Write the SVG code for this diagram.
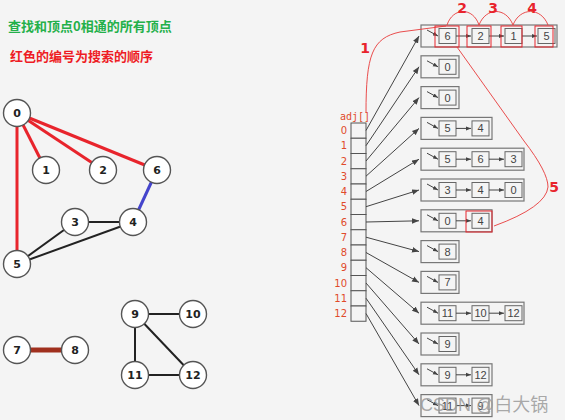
<svg xmlns="http://www.w3.org/2000/svg" width="565" height="420" viewBox="0 0 565 420">
<style>
.t{font-family:"Noto Sans CJK SC","Noto Sans",sans-serif;font-weight:bold;font-size:13px}
.gv circle{fill:#fff;stroke:#555;stroke-width:1.4}
.gv text{font-family:"DejaVu Sans",sans-serif;font-weight:bold;font-size:11px;fill:#222;text-anchor:middle}
.e{stroke:#222;stroke-width:2}
.er{stroke:#e8242c;stroke-width:3}
.idx{font-family:"DejaVu Sans",sans-serif;font-size:10px;fill:#e04a2a;text-anchor:end}
.cell{fill:#f4f4f4;stroke:#555;stroke-width:1}
.box{fill:none;stroke:#777;stroke-width:1.2}
.nd{fill:#f4f4f4;stroke:#666;stroke-width:1}
.nt{font-family:"Liberation Sans",sans-serif;font-size:11px;fill:#444;text-anchor:middle}
.al{stroke:#444;stroke-width:1;fill:none;marker-end:url(#ah)}
.ptr{stroke:#444;stroke-width:1;fill:none;marker-end:url(#ah2)}
.rb{fill:none;stroke:#e8242c;stroke-width:1}
.rc{fill:none;stroke:#e83a3a;stroke-width:0.9}
.rl{font-family:"DejaVu Sans",sans-serif;font-weight:bold;font-size:14px;fill:#e8242c;text-anchor:middle}
</style>
<defs>
<marker id="ah" viewBox="0 0 10 10" refX="10" refY="5" markerWidth="7" markerHeight="7" markerUnits="userSpaceOnUse" orient="auto"><path d="M0,1 L10,5 L0,9 z" fill="#444"/></marker>
<marker id="ah2" viewBox="0 0 10 10" refX="10" refY="5" markerWidth="5" markerHeight="5" markerUnits="userSpaceOnUse" orient="auto"><path d="M0,1 L10,5 L0,9 z" fill="#444"/></marker>
</defs>
<rect width="565" height="420" fill="#f4f4f4"/>
<text class="t" x="8" y="31" fill="#24b04a">查找和顶点0相通的所有顶点</text>
<text class="t" x="10" y="61" fill="#ee1c24">红色的编号为搜索的顺序</text>

<g id="edges">
<line class="er" x1="17" y1="113" x2="46" y2="170"/>
<line class="er" x1="17" y1="113" x2="103" y2="170"/>
<line class="er" x1="17" y1="113" x2="157" y2="170"/>
<line class="er" x1="17" y1="113" x2="17" y2="264"/>
<line x1="157" y1="170" x2="133" y2="222" stroke="#4444cc" stroke-width="3"/>
<line class="e" x1="75" y1="222" x2="133" y2="222"/>
<line class="e" x1="75" y1="222" x2="17" y2="264"/>
<line class="e" x1="133" y1="222" x2="17" y2="264"/>
<line x1="17" y1="350" x2="75" y2="350" stroke="#a0301e" stroke-width="5"/>
<line class="e" x1="135" y1="314" x2="193" y2="314"/>
<line class="e" x1="135" y1="314" x2="135" y2="375"/>
<line class="e" x1="135" y1="314" x2="193" y2="375"/>
<line class="e" x1="135" y1="375" x2="193" y2="375"/>
</g>
<g class="gv">
<g id="v0"><circle cx="17" cy="113" r="13.5"/><text x="17" y="117">0</text></g>
<g id="v1"><circle cx="46" cy="170" r="13.5"/><text x="46" y="174">1</text></g>
<g id="v2"><circle cx="103" cy="170" r="13.5"/><text x="103" y="174">2</text></g>
<g id="v6"><circle cx="157" cy="170" r="13.5"/><text x="157" y="174">6</text></g>
<g id="v3"><circle cx="75" cy="222" r="13.5"/><text x="75" y="226">3</text></g>
<g id="v4"><circle cx="133" cy="222" r="13.5"/><text x="133" y="226">4</text></g>
<g id="v5"><circle cx="17" cy="264" r="13.5"/><text x="17" y="268">5</text></g>
<g id="v7"><circle cx="17" cy="350" r="13.5"/><text x="17" y="354">7</text></g>
<g id="v8"><circle cx="75" cy="350" r="13.5"/><text x="75" y="354">8</text></g>
<g id="v9"><circle cx="135" cy="314" r="13.5"/><text x="135" y="318">9</text></g>
<g id="v10"><circle cx="193" cy="314" r="13.5"/><text x="193" y="318">10</text></g>
<g id="v11"><circle cx="135" cy="375" r="13.5"/><text x="135" y="379">11</text></g>
<g id="v12"><circle cx="193" cy="375" r="13.5"/><text x="193" y="379">12</text></g>
</g>

<g id="adj">
<text x="340" y="120" font-family="DejaVu Sans Mono,monospace" font-size="10" fill="#e04a2a">adj[]</text>
<text class="idx" x="347" y="134">0</text>
<text class="idx" x="347" y="149">1</text>
<text class="idx" x="347" y="165">2</text>
<text class="idx" x="347" y="180">3</text>
<text class="idx" x="347" y="195">4</text>
<text class="idx" x="347" y="210">5</text>
<text class="idx" x="347" y="226">6</text>
<text class="idx" x="347" y="241">7</text>
<text class="idx" x="347" y="256">8</text>
<text class="idx" x="347" y="271">9</text>
<text class="idx" x="347" y="287">10</text>
<text class="idx" x="347" y="302">11</text>
<text class="idx" x="347" y="317">12</text>
<rect class="cell" x="351" y="123" width="15" height="15.25"/>
<rect class="cell" x="351" y="138.25" width="15" height="15.25"/>
<rect class="cell" x="351" y="153.5" width="15" height="15.25"/>
<rect class="cell" x="351" y="168.75" width="15" height="15.25"/>
<rect class="cell" x="351" y="184" width="15" height="15.25"/>
<rect class="cell" x="351" y="199.25" width="15" height="15.25"/>
<rect class="cell" x="351" y="214.5" width="15" height="15.25"/>
<rect class="cell" x="351" y="229.75" width="15" height="15.25"/>
<rect class="cell" x="351" y="245" width="15" height="15.25"/>
<rect class="cell" x="351" y="260.25" width="15" height="15.25"/>
<rect class="cell" x="351" y="275.5" width="15" height="15.25"/>
<rect class="cell" x="351" y="290.75" width="15" height="15.25"/>
<rect class="cell" x="351" y="306" width="15" height="15.25"/>
</g>

<g id="connectors">
<line class="al" x1="366" y1="130.5" x2="419" y2="36"/>
<line class="al" x1="366" y1="145.7" x2="419" y2="66.8"/>
<line class="al" x1="366" y1="161" x2="419" y2="97.6"/>
<line class="al" x1="366" y1="176.2" x2="419" y2="128.4"/>
<line class="al" x1="366" y1="191.5" x2="419" y2="159.2"/>
<line class="al" x1="366" y1="206.7" x2="419" y2="190"/>
<line class="al" x1="366" y1="222" x2="419" y2="220.8"/>
<line class="al" x1="366" y1="237.2" x2="419" y2="251.6"/>
<line class="al" x1="366" y1="252.5" x2="419" y2="282.4"/>
<line class="al" x1="366" y1="267.7" x2="419" y2="313.2"/>
<line class="al" x1="366" y1="283" x2="419" y2="344"/>
<line class="al" x1="366" y1="298.2" x2="419" y2="374.8"/>
<line class="al" x1="366" y1="313.5" x2="419" y2="405.6"/>
</g>

<g id="list0">
<rect class="box" x="421" y="25" width="136" height="22"/>
<line class="ptr" x1="427" y1="30" x2="438" y2="36"/>
<rect class="nd" x="439" y="28.5" width="17" height="15"/><text class="nt" x="447.5" y="40">6</text>
<line class="ptr" x1="456" y1="36" x2="471" y2="36"/>
<rect class="nd" x="472" y="28.5" width="17" height="15"/><text class="nt" x="480.5" y="40">2</text>
<line class="ptr" x1="489" y1="36" x2="504" y2="36"/>
<rect class="nd" x="505" y="28.5" width="17" height="15"/><text class="nt" x="513.5" y="40">1</text>
<line class="ptr" x1="522" y1="36" x2="537" y2="36"/>
<rect class="nd" x="538" y="28.5" width="17" height="15"/><text class="nt" x="546.5" y="40">5</text>
</g>
<g id="list1">
<rect class="box" x="421" y="55.8" width="38" height="22"/>
<line class="ptr" x1="427" y1="60.8" x2="438" y2="66.8"/>
<rect class="nd" x="439" y="59.3" width="17" height="15"/><text class="nt" x="447.5" y="70.8">0</text>
</g>
<g id="list2">
<rect class="box" x="421" y="86.6" width="38" height="22"/>
<line class="ptr" x1="427" y1="91.6" x2="438" y2="97.6"/>
<rect class="nd" x="439" y="90.1" width="17" height="15"/><text class="nt" x="447.5" y="101.6">0</text>
</g>
<g id="list3">
<rect class="box" x="421" y="117.4" width="71" height="22"/>
<line class="ptr" x1="427" y1="122.4" x2="438" y2="128.4"/>
<rect class="nd" x="439" y="120.9" width="17" height="15"/><text class="nt" x="447.5" y="132.4">5</text>
<line class="ptr" x1="456" y1="128.4" x2="471" y2="128.4"/>
<rect class="nd" x="472" y="120.9" width="17" height="15"/><text class="nt" x="480.5" y="132.4">4</text>
</g>
<g id="list4">
<rect class="box" x="421" y="148.2" width="103" height="22"/>
<line class="ptr" x1="427" y1="153.2" x2="438" y2="159.2"/>
<rect class="nd" x="439" y="151.7" width="17" height="15"/><text class="nt" x="447.5" y="163.2">5</text>
<line class="ptr" x1="456" y1="159.2" x2="471" y2="159.2"/>
<rect class="nd" x="472" y="151.7" width="17" height="15"/><text class="nt" x="480.5" y="163.2">6</text>
<line class="ptr" x1="489" y1="159.2" x2="504" y2="159.2"/>
<rect class="nd" x="505" y="151.7" width="17" height="15"/><text class="nt" x="513.5" y="163.2">3</text>
</g>
<g id="list5">
<rect class="box" x="421" y="179" width="103" height="22"/>
<line class="ptr" x1="427" y1="184" x2="438" y2="190"/>
<rect class="nd" x="439" y="182.5" width="17" height="15"/><text class="nt" x="447.5" y="194">3</text>
<line class="ptr" x1="456" y1="190" x2="471" y2="190"/>
<rect class="nd" x="472" y="182.5" width="17" height="15"/><text class="nt" x="480.5" y="194">4</text>
<line class="ptr" x1="489" y1="190" x2="504" y2="190"/>
<rect class="nd" x="505" y="182.5" width="17" height="15"/><text class="nt" x="513.5" y="194">0</text>
</g>
<g id="list6">
<rect class="box" x="421" y="209.8" width="71" height="22"/>
<line class="ptr" x1="427" y1="214.8" x2="438" y2="220.8"/>
<rect class="nd" x="439" y="213.3" width="17" height="15"/><text class="nt" x="447.5" y="224.8">0</text>
<line class="ptr" x1="456" y1="220.8" x2="471" y2="220.8"/>
<rect class="nd" x="472" y="213.3" width="17" height="15"/><text class="nt" x="480.5" y="224.8">4</text>
</g>
<g id="list7">
<rect class="box" x="421" y="240.6" width="38" height="22"/>
<line class="ptr" x1="427" y1="245.6" x2="438" y2="251.6"/>
<rect class="nd" x="439" y="244.1" width="17" height="15"/><text class="nt" x="447.5" y="255.6">8</text>
</g>
<g id="list8">
<rect class="box" x="421" y="271.4" width="38" height="22"/>
<line class="ptr" x1="427" y1="276.4" x2="438" y2="282.4"/>
<rect class="nd" x="439" y="274.9" width="17" height="15"/><text class="nt" x="447.5" y="286.4">7</text>
</g>
<g id="list9">
<rect class="box" x="421" y="302.2" width="103" height="22"/>
<line class="ptr" x1="427" y1="307.2" x2="438" y2="313.2"/>
<rect class="nd" x="439" y="305.7" width="17" height="15"/><text class="nt" x="447.5" y="317.2">11</text>
<line class="ptr" x1="456" y1="313.2" x2="471" y2="313.2"/>
<rect class="nd" x="472" y="305.7" width="17" height="15"/><text class="nt" x="480.5" y="317.2">10</text>
<line class="ptr" x1="489" y1="313.2" x2="504" y2="313.2"/>
<rect class="nd" x="505" y="305.7" width="17" height="15"/><text class="nt" x="513.5" y="317.2">12</text>
</g>
<g id="list10">
<rect class="box" x="421" y="333" width="38" height="22"/>
<line class="ptr" x1="427" y1="338" x2="438" y2="344"/>
<rect class="nd" x="439" y="336.5" width="17" height="15"/><text class="nt" x="447.5" y="348">9</text>
</g>
<g id="list11">
<rect class="box" x="421" y="363.8" width="71" height="22"/>
<line class="ptr" x1="427" y1="368.8" x2="438" y2="374.8"/>
<rect class="nd" x="439" y="367.3" width="17" height="15"/><text class="nt" x="447.5" y="378.8">9</text>
<line class="ptr" x1="456" y1="374.8" x2="471" y2="374.8"/>
<rect class="nd" x="472" y="367.3" width="17" height="15"/><text class="nt" x="480.5" y="378.8">12</text>
</g>
<g id="list12">
<rect class="box" x="421" y="394.6" width="71" height="22"/>
<line class="ptr" x1="427" y1="399.6" x2="438" y2="405.6"/>
<rect class="nd" x="439" y="398.1" width="17" height="15"/><text class="nt" x="447.5" y="409.6">11</text>
<line class="ptr" x1="456" y1="405.6" x2="471" y2="405.6"/>
<rect class="nd" x="472" y="398.1" width="17" height="15"/><text class="nt" x="480.5" y="409.6">9</text>
</g>

<g id="order">
<rect class="rb" x="435" y="26" width="24" height="21"/>
<rect class="rb" x="467" y="26" width="24" height="21"/>
<rect class="rb" x="501" y="26" width="21" height="21"/>
<rect class="rb" x="535" y="26" width="18" height="21"/>
<rect class="rb" x="466" y="211" width="26" height="21"/>
<path class="rc" d="M366,113 C366,55 372,38 400,32 L446,26"/>
<path class="rc" d="M447,25 C453,7 473,7 479,25"/>
<path class="rc" d="M479,25 C486,7 506,7 513,25"/>
<path class="rc" d="M513,25 C520,7 541,7 548,25"/>
<path class="rc" d="M457,47 L524,141 Q548,172 548,187 Q546,207 494,226"/>
<text class="rl" x="365" y="53">1</text>
<text class="rl" x="462" y="12.5">2</text>
<text class="rl" x="493" y="12.5">3</text>
<text class="rl" x="532" y="12.5">4</text>
<text class="rl" x="554" y="192">5</text>
</g>
<text x="420" y="411" font-family="Liberation Sans,Noto Sans CJK SC,sans-serif" font-size="18" fill="#9a9a9a" fill-opacity="0.85">CSDN @白大锅</text>
</svg>
